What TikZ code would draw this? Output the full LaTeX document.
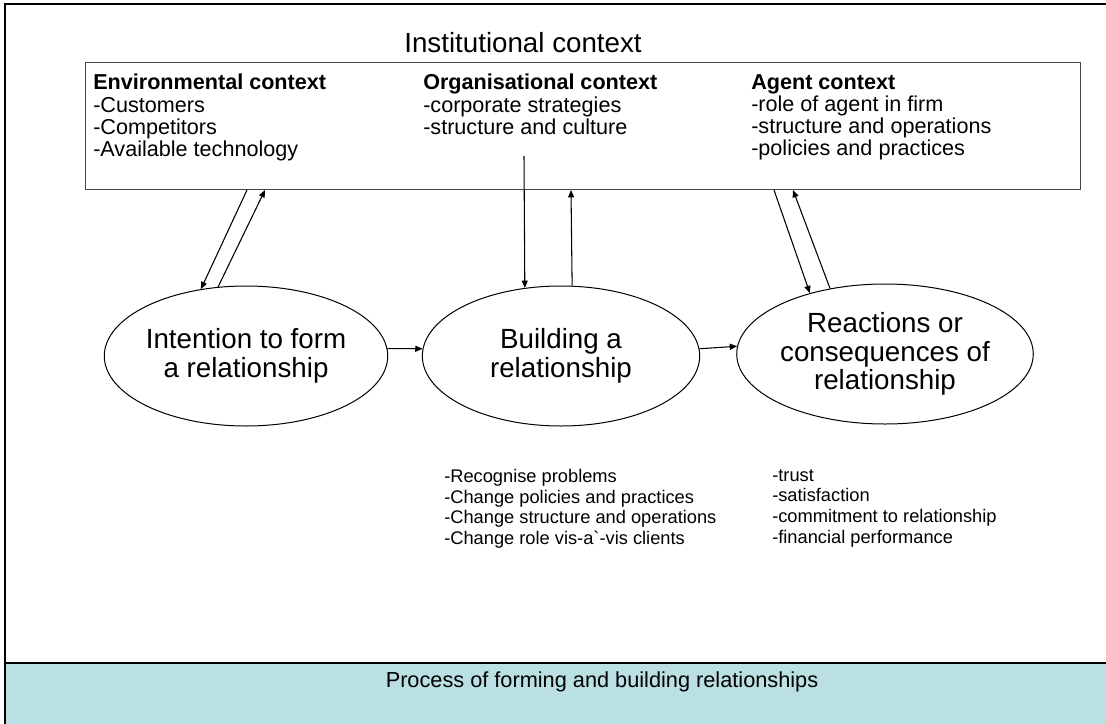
\documentclass[tikz,border=0pt]{standalone}
\usepackage{fontspec}
\setmainfont{Liberation Sans}
\usetikzlibrary{shapes.geometric, arrows.meta, positioning, calc}
\definecolor{bandteal}{RGB}{187,224,227}
\definecolor{boxgray}{RGB}{70,70,70}

\begin{document}
\begin{tikzpicture}[x=0.75pt, y=-0.75pt,
  stage/.style={ellipse, draw=black, line width=0.75pt, minimum width=208pt, minimum height=105pt, inner sep=0pt, align=center, font=\fontsize{20.8}{21.4}\selectfont},
  ctxcol/.style={anchor=north west, inner sep=0pt, align=left, font=\fontsize{16.2}{16.7}\selectfont},
  effect/.style={anchor=north west, inner sep=0pt, align=left, font=\fontsize{13.7}{15.5}\selectfont},
  arr/.style={-{Triangle[length=5.5pt, width=4.5pt]}, line width=0.8pt}
]
\useasboundingbox (0,0) rectangle (1106,724);
% frame and bottom band
\fill[bandteal] (5,663) rectangle (1106,724);
\draw[line width=1.5pt] (1106,4) -- (5,4) -- (5,724);
\draw[line width=1.2pt] (5,663) -- (1106,663);
\node[font=\fontsize{16.3}{20}\selectfont, anchor=base] (band) at (602,687) {Process of forming and building relationships};

% institutional context box
\node[font=\fontsize{20.8}{24}\selectfont, anchor=base] (title) at (523,53) {Institutional context};
\node[rectangle, draw=boxgray, line width=0.75pt, anchor=north west, inner sep=0pt, minimum width=746.25pt, minimum height=95.25pt] (ctx) at (85,62) {};
\node[ctxcol] (env) at (93,74) {\textbf{Environmental context}\\-Customers\\-Competitors\\-Available technology};
\node[ctxcol] (org) at (423,74) {\textbf{Organisational context}\\-corporate strategies\\-structure and culture};
\node[ctxcol] (agent) at (751,74) {\textbf{Agent context}\\-role of agent in firm\\-structure and operations\\-policies and practices};

% the three stages
\node[stage] (intent) at (246,356) {Intention to form\\a relationship};
\node[stage] (build) at (561,356) {Building a\\relationship};
\node[stage] (react) at (885,354) {Reactions or\\consequences of\\relationship};
\draw[arr] (intent.3) -- (build.177);
\draw[arr] (build.3) -- (react.177);

% links with the context box
\draw[arr] ($(ctx.south west)+(162,0)$) -- (intent.124.2);
\draw[arr] (intent.112.2) -- ($(ctx.south west)+(180,0)$);
\draw[arr] ($(ctx.south west)+(439,-34)$) -- (build.118.7);
\draw[arr] (build.81.8) -- ($(ctx.south west)+(486,0)$);
\draw[arr] ($(ctx.south west)+(689,0)$) -- (react.141.9);
\draw[arr] (react.130.5) -- ($(ctx.south west)+(708,0)$);

% lists under the stages
\node[effect] (steps) at (444,469) {-Recognise problems\\-Change policies and practices\\-Change structure and operations\\-Change role vis-a\textasciigrave-vis clients};
\node[effect] (results) at (772,469) {-trust\\-satisfaction\\-commitment to relationship\\-financial performance};
\end{tikzpicture}
\end{document}
